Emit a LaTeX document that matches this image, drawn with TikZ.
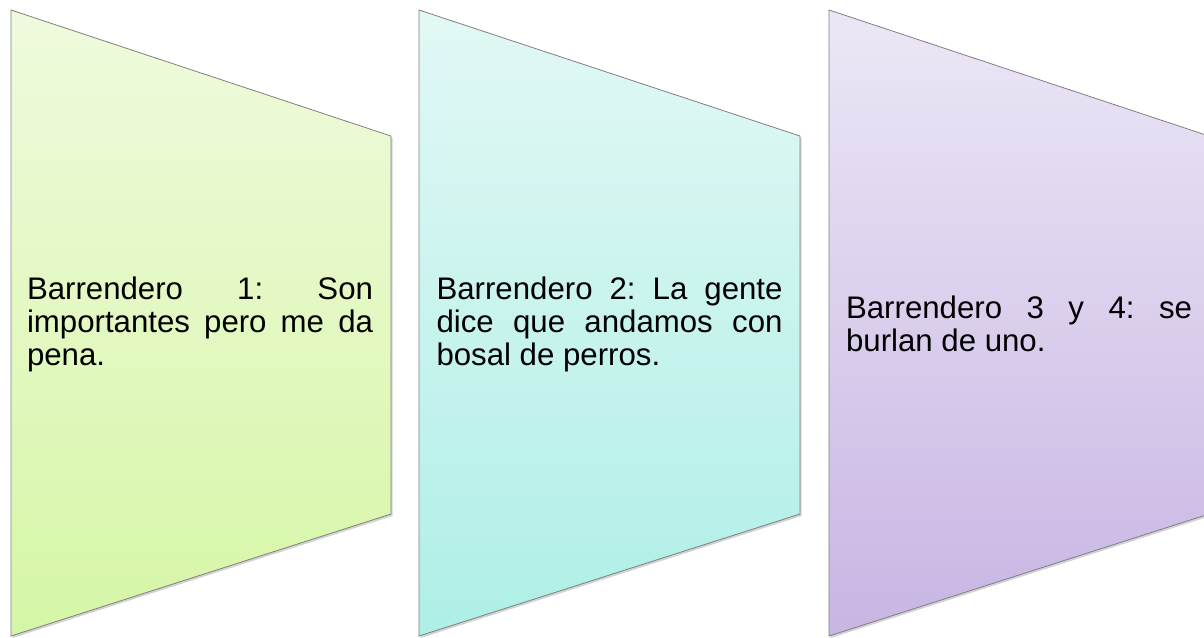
\documentclass[tikz,border=0pt]{standalone}
\usepackage{fontspec}
\setmainfont{Liberation Sans}
\usepackage{xcolor}
\usetikzlibrary{shadows,positioning}
\frenchspacing

\definecolor{greenTop}{HTML}{EFFADD}
\definecolor{greenBot}{HTML}{D6F6A6}
\definecolor{cyanTop}{HTML}{E2F8F5}
\definecolor{cyanBot}{HTML}{AEEFE6}
\definecolor{purpleTop}{HTML}{ECE7F6}
\definecolor{purpleBot}{HTML}{C8B5E3}

\begin{document}
\begin{tikzpicture}[x=0.75pt,y=-0.75pt]

\tikzstyle{panel}=[draw=black!50, line width=0.6pt,
    drop shadow={shadow xshift=1.2pt, shadow yshift=-1.5pt, opacity=0.35}]
\tikzstyle{txt}=[text width=259.5pt, align=justify, inner sep=0pt,
    font=\fontsize{23.4}{24.75}\selectfont]

\useasboundingbox (0,0) rectangle (1204,637);

% the three panels
\path[panel, top color=greenTop, bottom color=greenBot]
    (11,10) -- (391,136) -- (391,514) -- (11,636) -- cycle;
\path[panel, top color=cyanTop, bottom color=cyanBot]
    (419,10) -- (800,136) -- (800,514) -- (419,636) -- cycle;
\path[panel, top color=purpleTop, bottom color=purpleBot]
    (829,10) -- (1209,136) -- (1209,514) -- (829,636) -- cycle;

\node[txt] (b1) at (200,324)
    {Barrendero 1: Son\linebreak importantes pero me da\linebreak pena.};
\node[txt,right=47.25pt of b1] (b2)
    {Barrendero 2: La gente\linebreak dice que andamos con\linebreak bosal de perros.};
\node[txt,right=47.25pt of b2] (b3)
    {Barrendero 3 y 4: se\linebreak burlan de uno.};

\end{tikzpicture}
\end{document}
